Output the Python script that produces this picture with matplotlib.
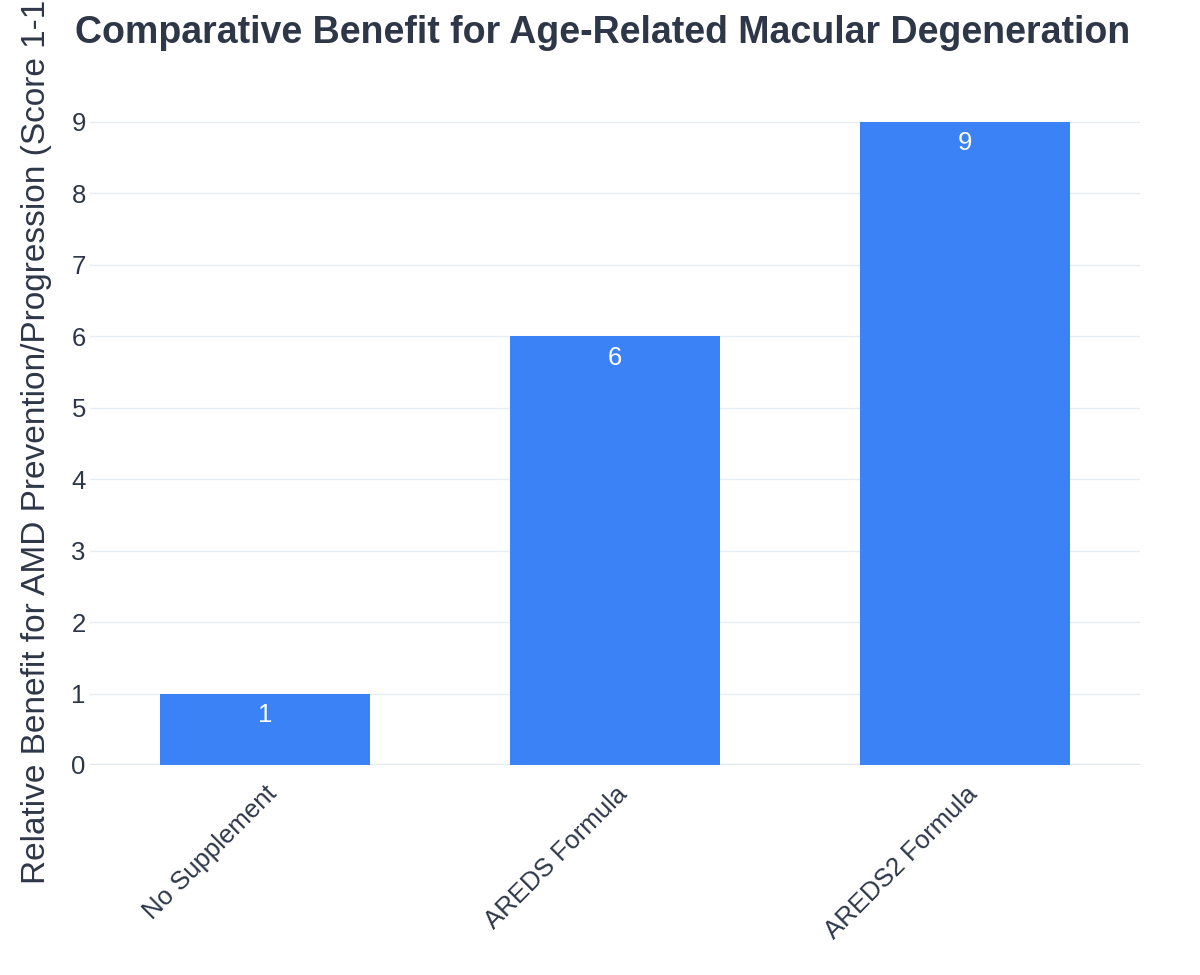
import matplotlib
matplotlib.use("Agg")
import matplotlib.pyplot as plt

categories = ["No Supplement", "AREDS Formula", "AREDS2 Formula"]
values = [1, 6, 9]
title = "Comparative Benefit for Age-Related Macular Degeneration"
ylabel = "Relative Benefit for AMD Prevention/Progression (Score 1-10)"

plt.rcParams['font.family'] = ['Liberation Sans', 'DejaVu Sans']
text_color = "#2d3748"

fig = plt.figure(figsize=(12, 9.75), dpi=100)
ax = fig.add_axes([0.075, 0.2154, 0.875, 0.6943])

x = list(range(len(categories)))
bars = ax.bar(x, values, width=0.6, color="#3b82f6", zorder=3)
for xi, v in zip(x, values):
    ax.annotate(str(v), (xi, v), xytext=(0, -7), textcoords="offset points",
                ha="center", va="top", color="white", fontsize=18.5, zorder=4)

ax.set_xlim(-0.5, 2.5)
ax.set_ylim(0, 9.47)
ax.set_yticks(range(0, 10))
ax.yaxis.grid(True, color="#e8edf3", linewidth=1, zorder=0)
ax.axhline(0, color="#e2e8f0", linewidth=2.5, zorder=2)
for s in ax.spines.values():
    s.set_visible(False)
ax.tick_params(axis="both", length=0, labelsize=18.5, colors=text_color)
ax.tick_params(axis="y", pad=3)
ax.set_xticks(x)
ax.set_xticklabels(categories, rotation=45, ha="right", va="top",
                   rotation_mode="anchor")
ax.tick_params(axis="x", pad=12)
ax.set_ylabel(ylabel, fontsize=24, color=text_color, labelpad=14)

fig.text(0.0625, 1 - 33 / 975, title, ha="left", va="center",
         fontsize=27, fontweight="bold", color=text_color)

fig.savefig("out.png", dpi=100)
